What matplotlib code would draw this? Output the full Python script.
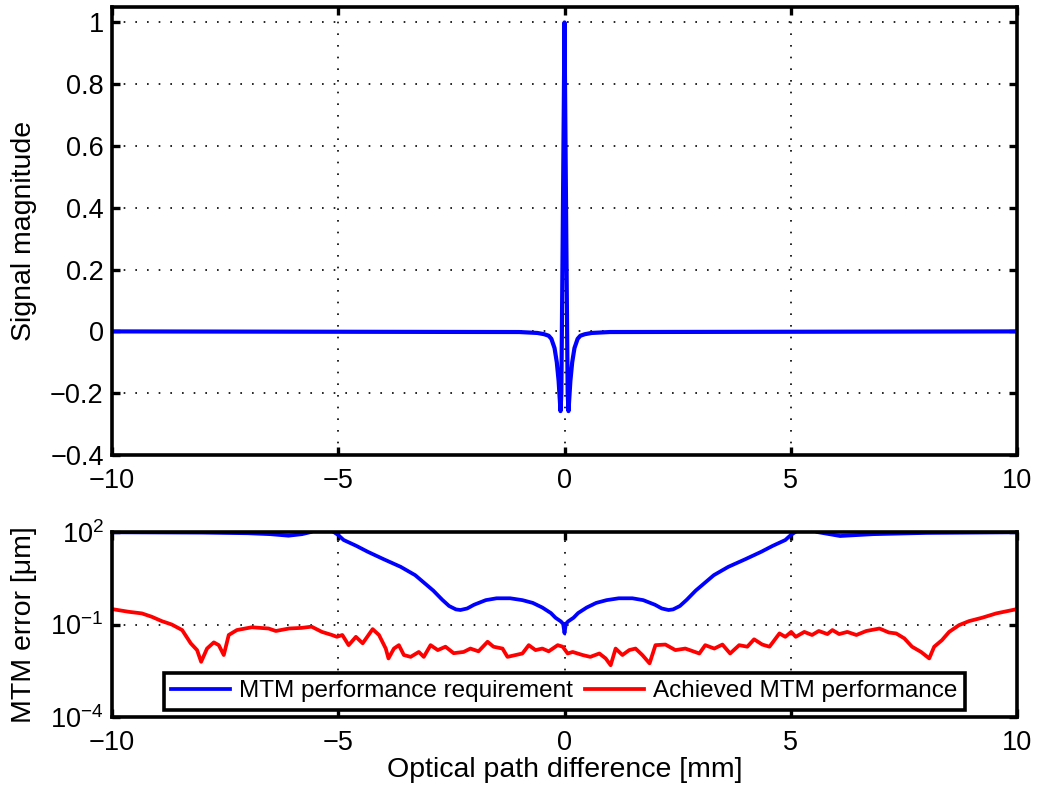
import numpy as np
import matplotlib
matplotlib.use('Agg')
import matplotlib.pyplot as plt

plt.rcParams['font.family'] = ['Liberation Sans', 'DejaVu Sans']
plt.rcParams['mathtext.fontset'] = 'custom'
plt.rcParams['mathtext.rm'] = 'Liberation Sans'
plt.rcParams['mathtext.it'] = 'Liberation Sans:italic'

# Top panel: interferogram (signal magnitude vs optical path difference, mm)
sig_x = [-10, -1.0, -0.6, -0.45, -0.35, -0.29, -0.22, -0.17, -0.13, -0.10, -0.088, -0.07, -0.04, 0.0,
         0.04, 0.07, 0.088, 0.10, 0.13, 0.17, 0.22, 0.29, 0.35, 0.45, 0.6, 1.0, 10]
sig_y = [0.0, -0.002, -0.005, -0.009, -0.014, -0.024, -0.054, -0.10, -0.16, -0.23, -0.258, -0.2, 0.3, 1.0,
         0.3, -0.2, -0.258, -0.23, -0.16, -0.10, -0.054, -0.024, -0.014, -0.009, -0.005, -0.002, 0.0]

# Bottom panel: MTM requirement (log10 of error in um)
req_x = [-10, -8, -7, -6.5, -6.1, -5.8, -5.6, -5.35, -5.1, -5.0, -4.88, -4.6, -4.35, -4.0, -3.62,
         -3.3, -2.9, -2.7, -2.55, -2.4, -2.3, -2.15, -2.0, -1.74, -1.5, -1.2, -0.93, -0.7, -0.49,
         -0.3, -0.2, -0.08, -0.03, 0.0,
         0.03, 0.08, 0.2, 0.3, 0.49, 0.7, 0.93, 1.2, 1.5, 1.74, 2.0, 2.15, 2.3, 2.4, 2.55, 2.7,
         2.9, 3.3, 3.62, 4.0, 4.35, 4.6, 4.88, 5.0,
         5.1, 5.35, 5.58, 6.09, 6.82, 8, 10]
req_log = [1.99, 1.98, 1.96, 1.93, 1.88, 1.93, 2.0, 2.2, 2.0, 1.9, 1.74, 1.55, 1.36, 1.12, 0.87,
           0.6, 0.1, -0.2, -0.4, -0.51, -0.53, -0.48, -0.36, -0.21, -0.15, -0.15, -0.21, -0.3, -0.45,
           -0.63, -0.78, -0.9, -0.98, -1.28,
           -0.98, -0.9, -0.78, -0.63, -0.45, -0.3, -0.21, -0.15, -0.15, -0.21, -0.36, -0.48, -0.53, -0.51, -0.4, -0.2,
           0.1, 0.6, 0.87, 1.12, 1.36, 1.55, 1.74, 1.9,
           2.0, 2.2, 2.0, 1.87, 1.93, 1.97, 1.99]

# Bottom panel: achieved MTM performance (log10 of error in um)
ach_x = [-10, -9.62, -9.34, -9.12, -8.9, -8.68, -8.45, -8.26, -8.12, -8.03, -7.9, -7.75, -7.64,
         -7.53, -7.42, -7.24, -6.91, -6.54, -6.38, -6.09, -5.81, -5.59, -5.36, -5.14, -5.03,
         -4.91, -4.77, -4.61, -4.46, -4.24, -4.1, -3.95, -3.89, -3.77, -3.66, -3.55, -3.4,
         -3.22, -3.11, -2.96, -2.8, -2.63, -2.45, -2.23, -2.08, -1.9, -1.7, -1.57, -1.37,
         -1.26, -1.08, -0.93, -0.79, -0.64, -0.49, -0.35, -0.15, -0.04, 0.07, 0.18, 0.4,
         0.57, 0.77, 0.91, 1.02, 1.13, 1.28, 1.43, 1.57, 1.72, 1.88, 2.01, 2.23, 2.45, 2.67,
         2.98, 3.11, 3.31, 3.49, 3.66, 3.86, 4.04, 4.19, 4.37, 4.53, 4.75, 4.88, 5.01, 5.11,
         5.3, 5.47, 5.62, 5.81, 5.92, 6.07, 6.25, 6.45, 6.67, 6.96, 7.17, 7.33, 7.51, 7.68,
         7.88, 8.06, 8.17, 8.34, 8.5, 8.72, 8.94, 9.23, 9.54, 10]
ach_log = [-0.50, -0.59, -0.64, -0.75, -0.89, -1.0, -1.18, -1.61, -1.83, -2.21, -1.78, -1.58, -1.67,
           -1.99, -1.34, -1.18, -1.09, -1.13, -1.21, -1.13, -1.11, -1.07, -1.24, -1.34, -1.40,
           -1.34, -1.67, -1.40, -1.61, -1.15, -1.34, -1.78, -2.1, -1.78, -1.67, -1.99, -2.05,
           -1.89, -2.05, -1.67, -1.83, -1.72, -1.93, -1.89, -1.78, -1.87, -1.56, -1.72, -1.78,
           -2.05, -1.99, -1.94, -1.67, -1.83, -1.78, -1.87, -1.67, -1.72, -1.94, -1.89, -1.99,
           -2.05, -1.94, -2.1, -2.32, -1.78, -1.99, -1.83, -1.78, -1.99, -2.26, -1.67, -1.65, -1.83, -1.78,
           -1.94, -1.67, -1.78, -1.65, -1.94, -1.67, -1.72, -1.48, -1.65, -1.72, -1.29, -1.40, -1.24, -1.40,
           -1.24, -1.34, -1.21, -1.31, -1.18, -1.31, -1.24, -1.34, -1.21, -1.13, -1.26, -1.29, -1.45, -1.72,
           -1.89, -2.1, -1.72, -1.51, -1.24, -1.02, -0.89, -0.78, -0.64, -0.50]

x_ticks = [-10, -5, 0, 5, 10]
sig_ticks = [-0.4, -0.2, 0, 0.2, 0.4, 0.6, 0.8, 1]
err_ticks = [1e-4, 1e-1, 1e2]
err_labels = [r'$10^{-4}$', r'$10^{-1}$', r'$10^{2}$']

FS_TICK = 19.5
FS_LABEL = 20.5
FS_LEG = 17.5
W, H = 1037, 791
fig = plt.figure(figsize=(W / 100, H / 100), dpi=100)
ax1 = fig.add_axes([112 / W, 1 - 455 / H, 905 / W, 448 / H])
ax2 = fig.add_axes([112 / W, 1 - 717 / H, 905 / W, 185 / H])


def style(ax):
    for s in ax.spines.values():
        s.set_linewidth(2.6)
    ax.tick_params(direction='in', length=6, width=2.4, top=True, right=True,
                   labelsize=FS_TICK, pad=6)
    ax.tick_params(axis='x', pad=9)
    ax.tick_params(which='minor', length=0)
    ax.grid(True, linestyle=(0, (1, 6)), color='black', linewidth=1.2)
    ax.set_axisbelow(True)
    ax.set_xlim(-10, 10)
    ax.set_xticks(x_ticks)


# top panel
ax1.plot(sig_x, sig_y, color='#0000ff', lw=3.0)
style(ax1)
ax1.set_ylim(-0.4, 1.05)
ax1.set_yticks(sig_ticks)
ax1.set_yticklabels(['\u22120.4', '\u22120.2', '0', '0.2', '0.4', '0.6', '0.8', '1'])
ax1.set_ylabel('Signal magnitude', fontsize=FS_LABEL)
ax1.yaxis.set_label_coords(-0.083, 0.5)

# bottom panel
ax2.plot(req_x, 10 ** np.array(req_log), color='#0000ff', lw=2.7,
         label='MTM performance requirement')
ax2.plot(ach_x, 10 ** np.array(ach_log), color='#ff0000', lw=2.7,
         label='Achieved MTM performance')
ax2.set_yscale('log')
style(ax2)
ax2.set_ylim(1e-4, 1e2)
ax2.set_yticks(err_ticks)
ax2.set_yticklabels(err_labels)
ax2.set_ylabel('MTM error [\u03bcm]', fontsize=FS_LABEL)
ax2.yaxis.set_label_coords(-0.083, 0.5)
ax2.set_xlabel('Optical path difference [mm]', fontsize=FS_LABEL, labelpad=1)

leg = ax2.legend(loc='lower center', bbox_to_anchor=(0.5, 0.04), ncol=2, fontsize=FS_LEG,
                 frameon=True, fancybox=False, edgecolor='black', framealpha=1,
                 handlelength=2.4, handletextpad=0.4, columnspacing=0.5,
                 borderpad=0.3, borderaxespad=0)
leg.get_frame().set_linewidth(2.6)

fig.savefig('out.png', dpi=100)
